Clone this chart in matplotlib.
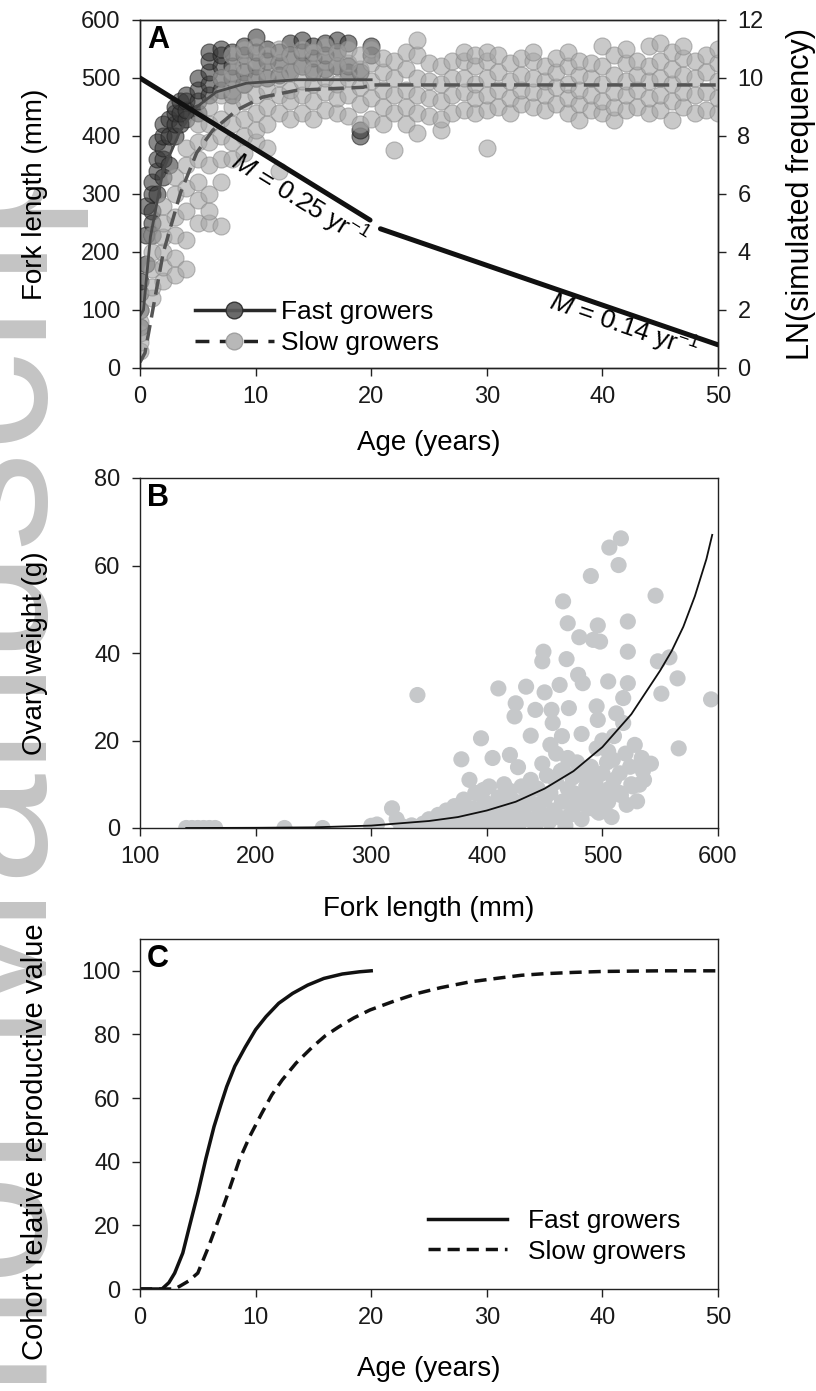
import matplotlib
matplotlib.use("Agg")
import matplotlib.pyplot as plt
from matplotlib.lines import Line2D
from matplotlib.patches import Rectangle

plt.rcParams['font.family'] = ['Liberation Sans', 'DejaVu Sans']
plt.rcParams['mathtext.fontset'] = 'custom'
plt.rcParams['mathtext.rm'] = 'Liberation Sans'
plt.rcParams['mathtext.it'] = 'Liberation Sans:italic'

# ---------------- Panel A data ----------------
fast_age = [0, 0, 0, 0, 0.5, 0.5, 0.5, 1, 1, 1, 1, 1, 1.5, 1.5, 1.5, 1.5,
            2, 2, 2, 2, 2, 2.5, 2.5, 2.5, 3, 3, 3, 3, 3.5, 3.5, 3.5,
            4, 4, 4, 4, 5, 5, 5, 5, 6, 6, 6, 6, 6, 7, 7, 7, 7, 7,
            8, 8, 8, 8, 9, 9, 9, 9, 10, 10, 10, 10, 11, 11, 11, 12, 12, 12,
            13, 13, 13, 14, 14, 14, 15, 15, 15, 16, 16, 16, 17, 17, 17,
            18, 18, 18, 19, 19, 19, 20, 20]
fast_fl = [100, 130, 150, 70, 180, 230, 280, 230, 270, 300, 320, 250, 300, 340, 360, 390,
           330, 360, 380, 400, 420, 350, 400, 430, 400, 420, 440, 450, 420, 440, 460,
           430, 445, 460, 470, 440, 460, 480, 500, 470, 490, 510, 530, 545, 480, 500, 520, 540, 550,
           470, 500, 520, 545, 490, 510, 540, 555, 500, 520, 545, 570, 500, 530, 550, 505, 525, 545,
           510, 540, 560, 520, 545, 565, 510, 535, 555, 515, 540, 560, 520, 545, 565,
           510, 520, 560, 400, 410, 510, 540, 555]

slow_age = ([0] * 5 + [1] * 5 + [2] * 6 + [3] * 6 + [4] * 6 + [5] * 6 + [6] * 7 + [7] * 7 +
            [8] * 7 + [9] * 7 + [10] * 7 + [11] * 6 + [12] * 6 + [13] * 5 + [14] * 5 + [15] * 5 +
            [16] * 5 + [17] * 5 + [18] * 5 + [19] * 5 + [20] * 5 + [21] * 5 + [22] * 5 + [23] * 5 +
            [24] * 6 + [25] * 4 + [26] * 5 + [27] * 4 + [28] * 5 + [29] * 5 + [30] * 6 + [31] * 4 +
            [32] * 4 + [33] * 4 + [34] * 5 + [35] * 4 + [36] * 4 + [37] * 5 + [38] * 5 + [39] * 4 +
            [40] * 5 + [41] * 5 + [42] * 5 + [43] * 4 + [44] * 5 + [45] * 5 + [46] * 5 + [47] * 5 +
            [48] * 4 + [49] * 4 + [50] * 5)
slow_fl = [30, 45, 60, 80, 100,
           120, 140, 170, 200, 230,
           150, 175, 200, 225, 250, 280,
           160, 190, 230, 260, 300, 330,
           170, 220, 270, 310, 350, 380,
           250, 290, 320, 360, 390, 420,
           250, 270, 300, 350, 390, 420, 450,
           245, 320, 360, 400, 430, 470, 500,
           360, 390, 420, 450, 480, 510, 540,
           370, 400, 430, 460, 490, 520, 550,
           390, 410, 440, 470, 500, 530, 555,
           380, 420, 450, 480, 510, 540,
           340, 440, 470, 500, 525, 550,
           430, 460, 480, 510, 540,
           440, 470, 495, 520, 550,
           430, 460, 490, 515, 545,
           445, 475, 500, 530, 555,
           440, 465, 490, 520, 545,
           435, 470, 500, 525, 550,
           420, 455, 485, 515, 540,
           430, 465, 495, 525, 550,
           420, 450, 480, 510, 535,
           375, 440, 470, 500, 530,
           420, 450, 480, 515, 545,
           405, 440, 470, 500, 540, 566,
           435, 465, 495, 525,
           410, 430, 460, 490, 520,
           440, 470, 500, 530,
           445, 475, 500, 530, 545,
           440, 465, 490, 520, 540,
           380, 445, 470, 500, 530, 545,
           450, 480, 510, 540,
           440, 465, 495, 525,
           455, 480, 505, 535,
           450, 475, 500, 530, 545,
           445, 470, 495, 520,
           455, 485, 510, 535,
           440, 465, 490, 520, 545,
           427, 455, 480, 505, 530,
           445, 470, 500, 525,
           440, 460, 490, 520, 555,
           427, 450, 475, 505, 540,
           445, 470, 495, 525, 550,
           450, 480, 505, 530,
           440, 465, 495, 520, 555,
           445, 470, 500, 530, 560,
           427, 460, 490, 515, 545,
           450, 475, 505, 535, 555,
           440, 470, 500, 530,
           445, 475, 510, 540,
           440, 465, 495, 525, 550]

fast_curve_age = [0, 0.3, 0.9, 2.0, 3.5, 4.9, 6.6, 9.2, 13.6, 20.0]
fast_curve_fl = [90, 100, 226, 341, 410, 450, 476, 491, 497, 497]
slow_curve_age = [0, 0.43, 2.0, 3.5, 4.9, 6.3, 8.4, 10.6, 13.6, 19.3, 20, 30, 40, 50]
slow_curve_fl = [10, 26, 198, 302, 371, 410, 445, 467, 479, 484, 488, 488, 488, 488]

mort_age1 = [0, 19.9]
mort_ln1 = [10.0, 5.1]
mort_age2 = [20.8, 50.0]
mort_ln2 = [4.8, 0.8]

# ---------------- Panel B data ----------------
ovary_fl = [140, 145, 150, 155, 160, 165, 225, 258,
            300, 305, 318, 322, 326, 340, 345, 350, 355, 358, 362, 365, 368, 370, 372, 375,
            378, 378, 380, 382, 385, 385, 388, 390, 392, 395, 395, 397, 398, 400, 402, 404,
            405, 408, 410, 410, 412, 414, 415, 418, 420, 420, 422, 424, 425, 425, 427, 428,
            430, 432, 434, 435, 436, 438, 438, 440, 442, 442, 444, 446, 448, 448, 449, 450,
            450, 452, 454, 455, 456, 457, 458, 460, 462, 463, 464, 465, 466, 466, 468, 469,
            470, 470, 471, 472, 474, 476, 478, 479, 480, 480, 482, 482, 483, 484, 486, 488,
            490, 490, 492, 492, 494, 495, 495, 496, 496, 497, 498, 498, 500, 502, 504, 505,
            506, 508, 509, 510, 512, 514, 516, 506, 515, 516, 518, 518, 520, 521, 522, 522,
            522, 524, 526, 528, 530, 532, 534, 536, 542, 546, 548, 551, 558, 565, 566, 594,
            500, 505, 510, 488, 476, 470, 465, 460, 455, 485, 495, 505, 515, 525, 535, 475,
            445, 430, 415, 400, 390, 380, 360, 350, 335]
ovary_w = [0, 0, 0, 0, 0, 0, 0, 0,
           0.5, 0.8, 4.5, 2.0, 0.5, 30.4, 1.0, 2.0, 0.5, 3.0, 1.5, 4.0, 0.5, 2.5, 5.0, 1.0,
           3.5, 15.7, 6.5, 0.5, 11.0, 2.0, 4.5, 8.0, 1.0, 20.5, 3.0, 8.7, 6.0, 1.5, 9.5, 4.0,
           16.0, 0.5, 31.9, 7.0, 2.5, 5.5, 10.0, 1.5, 16.7, 8.5, 3.5, 25.5, 28.5, 6.0, 13.9, 1.0,
           9.5, 4.5, 32.3, 7.5, 2.0, 21.1, 11.0, 5.5, 0.5, 27.0, 9.0, 3.5, 38.1, 14.7, 40.3, 31.0,
           6.5, 12.0, 1.5, 8.0, 27.0, 24.0, 4.0, 10.5, 2.5, 32.7, 13.0, 6.0, 51.8, 13.3, 0.5, 38.6,
           46.8, 9.0, 27.4, 3.0, 11.5, 5.0, 15.0, 35.0, 43.6, 7.5, 21.5, 2.0, 33.1, 12.0, 9.5, 4.5,
           57.6, 14.0, 43.0, 6.5, 10.5, 27.8, 18.2, 46.3, 24.7, 3.5, 42.6, 8.5, 12.5, 5.0, 15.0, 33.5,
           9.0, 2.5, 15.6, 11.0, 26.2, 60.1, 66.2, 64.1, 12.5, 7.5, 29.7, 24.0, 17.0, 5.3, 33.1, 47.2,
           40.3, 14.0, 9.5, 19.0, 6.1, 9.9, 16.0, 11.0, 14.7, 53.1, 38.1, 30.7, 39.0, 34.2, 18.2, 29.4,
           20.0, 17.5, 21.0, 13.0, 12.0, 16.0, 21.0, 17.0, 19.0, 7.0, 4.0, 6.0, 8.0, 10.0, 13.0, 8.0,
           4.5, 3.0, 2.0, 1.5, 2.5, 1.0, 1.2, 0.8, 0.6]

curve_fl = [140, 200, 250, 300, 350, 375, 400, 425, 450, 475, 500, 525, 550, 560, 570, 580, 590, 595]
curve_w = [0.0, 0.05, 0.15, 0.55, 1.6, 2.5, 4.0, 6.0, 9.0, 13.0, 18.5, 26.0, 36.0, 40.5, 46.0, 53.0, 61.5, 67.0]

# ---------------- Panel C data ----------------
c_fast_age = [0, 1.9, 2.5, 3.0, 3.7, 4.3, 5.0, 5.7, 6.4, 7.0, 7.5, 8.2, 9.1, 10.0, 10.9,
              12.0, 13.2, 14.5, 15.9, 17.5, 19.0, 20.0]
c_fast_val = [0, 0, 2, 5, 11.3, 20, 30, 41, 51, 58, 63.6, 70, 76, 81.5, 85.6,
              89.8, 92.9, 95.5, 97.6, 99, 99.7, 100]
c_slow_age = [0, 3.0, 3.5, 4.2, 5.0, 5.9, 6.8, 7.7, 8.6, 9.5, 10.5, 11.4, 12.3, 13.5, 14.9,
              16.0, 17.2, 18.5, 19.9, 22, 24, 26, 28.5, 31, 33, 35, 37.5, 40, 45, 50]
c_slow_val = [0, 0, 1, 2.5, 5, 13, 21.8, 31, 40.6, 48, 55, 61, 65.7, 71, 76,
              79.5, 82.4, 85.2, 87.7, 90.5, 92.9, 94.7, 96.5, 97.7, 98.6, 99.1, 99.5, 99.8, 100, 100]

labels_growth = ['Fast growers', 'Slow growers']

# ---------------- Figure ----------------
W, H = 816, 1391
fig = plt.figure(figsize=(W / 100, H / 100), dpi=100)
fig.patch.set_facecolor('white')

# watermark (behind everything)
wm = fig.text(47 / W, 1 - 73 / H, 'Author Manuscript', rotation=90, rotation_mode='anchor',
              ha='right', va='baseline', fontsize=144, color='#c4c4c4', zorder=-5)
wm.set_clip_path(Rectangle((0, 0), 1, 1 - 190 / H, transform=fig.transFigure))

axL, axW = 140 / W, 578 / W
axA = fig.add_axes([axL, 1 - 368 / H, axW, 348 / H])
axB = fig.add_axes([axL, 1 - 828 / H, axW, 350 / H])
axC = fig.add_axes([axL, 1 - 1289 / H, axW, 350 / H])

TICK = 17
LAB = 20

def style(ax):
    ax.set_facecolor('none')
    for s in ax.spines.values():
        s.set_linewidth(1.0)
        s.set_color('#222222')
    ax.tick_params(direction='out', length=6, width=1.0, labelsize=TICK, colors='#222222')
    ax.tick_params(axis='x', pad=7)
    ax.tick_params(axis='y', pad=8)
    for lab in ax.get_xticklabels() + ax.get_yticklabels():
        lab.set_color('#1a1a1a')

# Panel A
axA.scatter(fast_age, fast_fl, s=150, c='#3a3a3a', alpha=0.6, edgecolors='#1e1e1e',
            linewidths=0.8, zorder=2)
axA.scatter(slow_age, slow_fl, s=150, c='#a6a6a6', alpha=0.6, edgecolors='#8a8a8a',
            linewidths=0.8, zorder=3)
axA.plot(fast_curve_age, fast_curve_fl, color='#4a4a4a', lw=2.0, zorder=4)
axA.plot(slow_curve_age, slow_curve_fl, color='#555555', lw=2.5, dashes=(4.5, 2.2), zorder=4)
axA.set_xlim(0, 50)
axA.set_ylim(0, 600)
axA.set_xticks(range(0, 51, 10))
axA.set_yticks(range(0, 601, 100))
style(axA)
axA.set_xlabel('Age (years)', fontsize=LAB)
axA.set_ylabel('Fork length (mm)', fontsize=LAB)
axA.xaxis.set_label_coords(0.5, -0.179)
axA.yaxis.set_label_coords(-0.16, 0.5)
axA.text(0.012, 0.985, 'A', transform=axA.transAxes, fontsize=22, fontweight='bold',
         va='top', ha='left')

ax2 = axA.twinx()
ax2.plot(mort_age1, mort_ln1, color='#111111', lw=3.6, solid_capstyle='round', zorder=5)
ax2.plot(mort_age2, mort_ln2, color='#111111', lw=3.6, solid_capstyle='round', zorder=5)
ax2.set_ylim(0, 12)
ax2.set_yticks(range(0, 13, 2))
style(ax2)
ax2.set_ylabel('LN(simulated frequency)', fontsize=22)
ax2.yaxis.set_label_coords(1.118, 0.5)
ax2.text(13.8, 5.8, r'$M$ = 0.25 yr$^{-1}$', fontsize=19, rotation=-31.7,
         rotation_mode='anchor', ha='center', va='center')
ax2.text(41.8, 1.45, r'$M$ = 0.14 yr$^{-1}$', fontsize=19, rotation=-19,
         rotation_mode='anchor', ha='center', va='center')

hA = [Line2D([], [], color='#111111', lw=2.5, marker='o', markersize=12,
             markerfacecolor='#5a5a5a', markeredgecolor='#2a2a2a', alpha=0.9),
      Line2D([], [], color='#222222', lw=2.5, dashes=(4, 3), marker='o', markersize=12,
             markerfacecolor='#b8b8b8', markeredgecolor='#a0a0a0')]
axA.legend(hA, labels_growth, loc='lower left', bbox_to_anchor=(0.063, -0.015), frameon=False,
           fontsize=19, handlelength=3.0, handletextpad=0.25, labelspacing=0.25,
           borderpad=0.2)

# Panel B
axB.scatter(ovary_fl, ovary_w, s=135, c='#c6c8ca', edgecolors='none', zorder=2)
axB.plot(curve_fl, curve_w, color='#111111', lw=1.3, zorder=3)
axB.set_xlim(100, 600)
axB.set_ylim(0, 80)
axB.set_xticks(range(100, 601, 100))
axB.set_yticks(range(0, 81, 20))
style(axB)
axB.set_xlabel('Fork length (mm)', fontsize=LAB)
axB.set_ylabel('Ovary weight (g)', fontsize=LAB)
axB.xaxis.set_label_coords(0.5, -0.194)
axB.yaxis.set_label_coords(-0.16, 0.5)
axB.text(0.012, 0.985, 'B', transform=axB.transAxes, fontsize=22, fontweight='bold',
         va='top', ha='left')

# Panel C
axC.plot(c_fast_age, c_fast_val, color='#111111', lw=2.5, label=labels_growth[0])
axC.plot(c_slow_age, c_slow_val, color='#111111', lw=2.5, dashes=(3.5, 2),
         label=labels_growth[1])
axC.set_xlim(0, 50)
axC.set_ylim(0, 110)
axC.set_xticks(range(0, 51, 10))
axC.set_yticks(range(0, 101, 20))
style(axC)
axC.set_xlabel('Age (years)', fontsize=LAB)
axC.set_ylabel('Cohort relative reproductive value', fontsize=21)
axC.xaxis.set_label_coords(0.5, -0.19)
axC.yaxis.set_label_coords(-0.158, 0.42)
axC.text(0.012, 0.985, 'C', transform=axC.transAxes, fontsize=22, fontweight='bold',
         va='top', ha='left')
axC.legend(loc='lower left', bbox_to_anchor=(0.466, 0.02), frameon=False, fontsize=19,
           handlelength=3.0, handletextpad=0.8, labelspacing=0.25, borderpad=0.2)

fig.savefig('out.png', dpi=100, facecolor='white')
